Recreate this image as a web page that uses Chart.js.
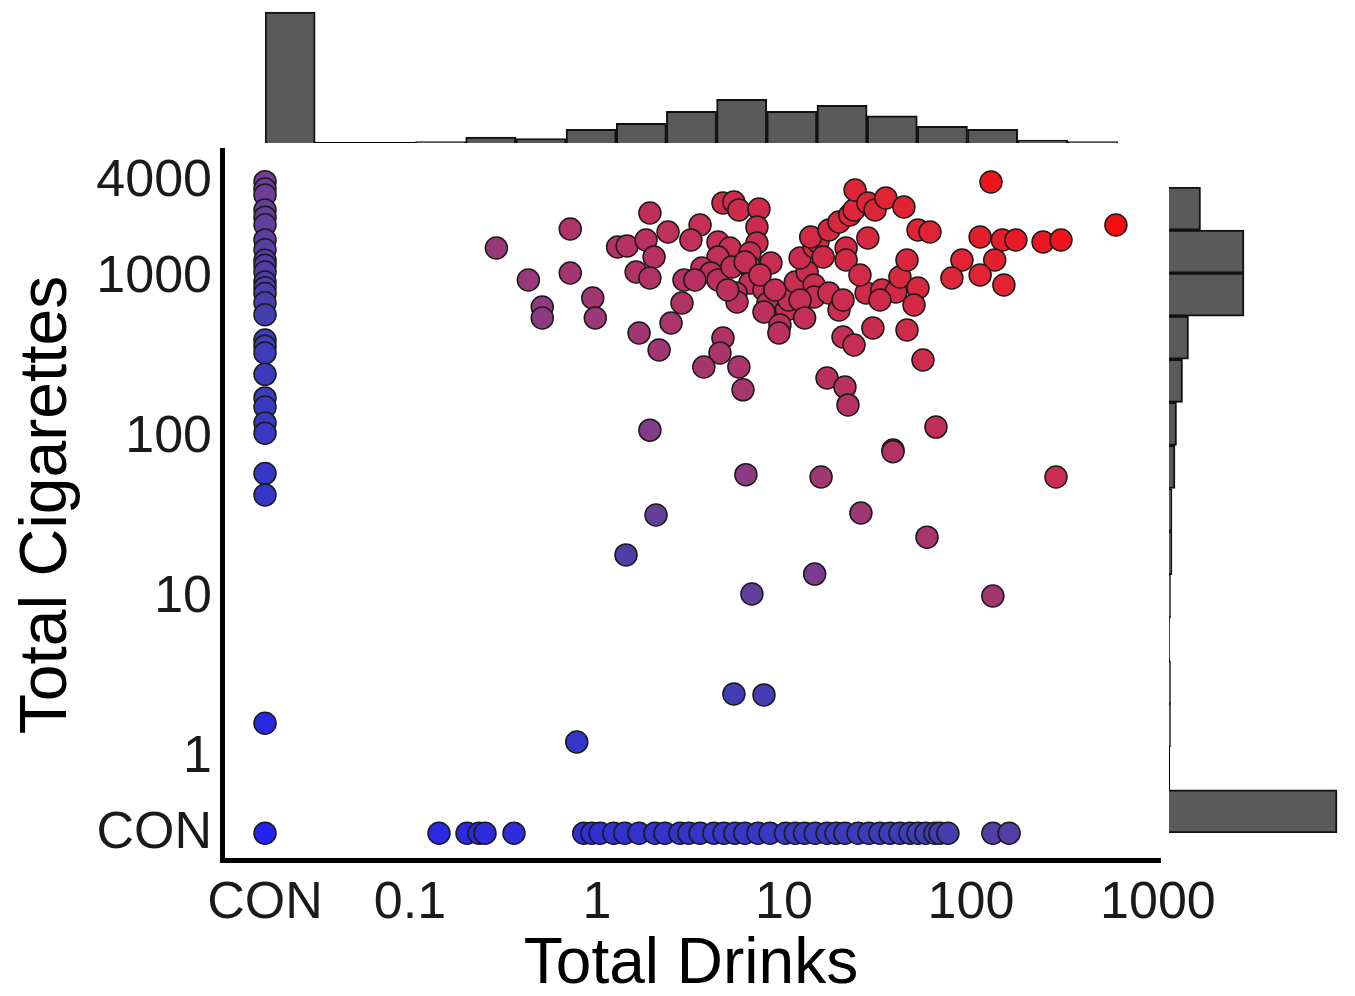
<!DOCTYPE html>
<html>
<head>
<meta charset="utf-8">
<script src="https://cdn.jsdelivr.net/npm/chart.js@4.4.1/dist/chart.umd.min.js"></script>
<style>
    html, body { margin: 0; padding: 0; background: #fff; }
    .wrap { position: relative; width: 1355px; height: 996px; overflow: hidden; }
    canvas { position: absolute; }
    #main { left: 0; top: 0; }
    #topHist { left: 265px; top: 0; }
    #rightHist { left: 1169px; top: 187px; }
</style>
</head>
<body>
<div class="wrap">
    <canvas id="main" width="1355" height="996"></canvas>
    <canvas id="topHist" width="853" height="143"></canvas>
    <canvas id="rightHist" width="186" height="646"></canvas>
</div>
<script>
// 0 means "CON" (none) on either axis
const conDrinkersCigs = [4000, 3600, 3300, 2660, 2400, 2150, 1730, 1500, 1290, 1200, 1090, 944, 870, 800, 700, 590,
    410, 375, 340, 250, 178, 156, 124, 107, 60, 44, 1.65, 0];
const conSmokersDrinks = [0.143, 0.202, 0.234, 0.252, 0.36, 0.85, 0.94, 1.04, 1.23, 1.41, 1.68, 2.04, 2.31, 2.78,
    3.10, 3.56, 4.22, 4.78, 5.47, 6.18, 7.26, 8.42, 10.2, 11.5, 12.9, 14.7, 17.0, 19.0, 21.2, 24.9, 28.5, 32.6,
    36.9, 41.7, 47.2, 52.1, 57.4, 64.2, 68.2, 75.3, 131, 160];
// [drinks, cigarettes]
const bothUsers = [
    [0.29, 1540], [0.72, 2024], [0.43, 972], [0.72, 1075], [0.51, 659], [0.51, 562], [0.95, 750], [0.98, 562],
    [1.29, 1563], [1.92, 2547], [1.45, 1585], [1.83, 1728], [2.40, 1940], [3.56, 2143], [3.18, 1728], [2.02, 1352],
    [1.62, 1090], [1.92, 1000], [2.92, 972], [2.85, 698], [2.49, 523], [1.68, 453], [2.15, 355], [4.72, 422],
    [4.55, 340], [3.73, 278], [5.74, 278], [6.04, 200], [1.92, 112], [17.0, 237], [21.2, 208], [22.0, 161],
    [65.0, 117], [38.3, 84], [55.4, 307], [45.5, 473], [29.9, 487], [20.7, 428], [23.7, 381],
    [4.72, 2943], [5.40, 2985], [5.74, 2661], [7.35, 2700], [7.17, 2084], [4.44, 1679], [5.14, 1540], [7.17, 1655],
    [6.58, 1432], [4.44, 1352], [3.64, 1155], [4.07, 1075], [4.44, 972], [5.27, 1172], [6.58, 1172], [8.52, 1241],
    [6.58, 931], [5.54, 806], [5.61, 708], [7.82, 841], [8.21, 698], [7.82, 613], [10.3, 631], [10.6, 729],
    [9.52, 508], [9.40, 453], [11.5, 944], [13.3, 1090], [12.2, 1334], [14.5, 1563], [15.2, 1679], [13.9, 1805],
    [17.4, 1995], [19.7, 2239], [22.5, 2478], [23.7, 2661], [24.0, 3548], [28.1, 2943], [30.7, 2661], [35.1, 3162],
    [43.8, 2780], [52.1, 1995], [60.4, 1940], [28.1, 1778], [21.5, 1540], [21.5, 1296], [16.2, 1352], [14.5, 904],
    [14.5, 761], [17.4, 806], [19.7, 631], [20.7, 729], [27.5, 806], [33.4, 841], [39.7, 818], [41.7, 1015],
    [45.5, 1296], [52.1, 866], [49.6, 678], [6.2, 1260], [7.45, 1045], [8.95, 841], [12.2, 729], [12.9, 562],
    [5.0, 841], [3.34, 972], [25.5, 1045], [32.6, 729],
    [128, 3981], [112, 1805], [147, 1728], [174, 1728], [243, 1679], [303, 1728], [596, 2143], [89.5, 1296],
    [134, 1296], [79.1, 1000], [112, 1045], [150, 904],
    [6.26, 59], [15.8, 57], [38.3, 82], [285, 57], [2.07, 33], [25.8, 34], [58.2, 24], [1.43, 18.6],
    [14.6, 14.1], [6.74, 10.6], [131, 10.3], [5.40, 2.51], [7.82, 2.48], [0.78, 1.26]
];

const xTickValues = ['CON', 0.1, 1, 10, 100, 1000];
const yTickValues = ['CON', 1, 10, 100, 1000, 4000];

// marginal histograms (counts per bin, bin lower bounds as labels)
const drinkBins = ['CON', '0.031', '0.056', '0.1', '0.19', '0.36', '0.68', '1.3', '2.3', '4.3', '8.2', '15', '28',
    '51', '95', '178', '331'];
const drinkCounts = [87, 0, 0, 1, 4, 3, 9, 13, 21, 29, 21, 25, 18, 11, 9, 2, 1];
const cigBins = ['3700', '1950', '1070', '575', '300', '165', '87', '48', '26', '14', '7.5', '4', '2.2', '1.2', 'CON'];
const cigCounts = [21, 50, 50, 13, 9, 5, 4, 2, 2, 1, 0.5, 1, 1, 0, 112];

const CON_X = -1.775;
const CON_Y = -0.47;
const toX = d => d === 0 ? CON_X : Math.log10(d);
const toY = c => c === 0 ? CON_Y : Math.log10(c);

const stops = [
    [0, 35, 35, 240], [0.38, 62, 62, 182], [0.45, 90, 62, 160], [0.5, 112, 62, 150],
    [0.6, 160, 55, 115], [0.72, 198, 46, 86], [0.85, 224, 36, 52], [1, 250, 5, 5]
];
const colorFor = (x, y) => {
    const px = (x - CON_X) / (2.78 - CON_X);
    const py = (y - CON_Y) / (3.6 - CON_Y);
    const t = Math.max(0, Math.min(1, (px + py) / 2));
    for (let i = 1; i < stops.length; i++) {
        if (t <= stops[i][0]) {
            const a = stops[i - 1], b = stops[i];
            const f = (t - a[0]) / (b[0] - a[0]);
            const c = [1, 2, 3].map(k => Math.round(a[k] + (b[k] - a[k]) * f));
            return `rgb(${c[0]},${c[1]},${c[2]})`;
        }
    }
    return 'rgb(250,5,5)';
};

const points = [
    ...conDrinkersCigs.map(c => ({ x: CON_X, y: toY(c) })),
    ...conSmokersDrinks.map(d => ({ x: toX(d), y: CON_Y })),
    ...bothUsers.map(p => ({ x: toX(p[0]), y: toY(p[1]) }))
];

const font = 'Liberation Sans, Arial, Helvetica, sans-serif';

new Chart(document.getElementById('main'), {
    type: 'scatter',
    data: {
        datasets: [{
            data: points,
            pointRadius: 11,
            pointHoverRadius: 11,
            pointBorderWidth: 1.5,
            pointBorderColor: '#1a1a1a',
            pointBackgroundColor: points.map(p => colorFor(p.x, p.y))
        }]
    },
    options: {
        responsive: false,
        animation: false,
        layout: { padding: { top: 150, right: 195, left: 0, bottom: 0 } },
        plugins: { legend: { display: false }, tooltip: { enabled: false } },
        scales: {
            x: {
                type: 'linear',
                min: -2.005,
                max: 3.011,
                grid: { display: false, drawTicks: false },
                border: { display: true, color: '#000', width: 5 },
                afterBuildTicks: scale => {
                    scale.ticks = xTickValues.map(v => ({ value: v === 'CON' ? CON_X : Math.log10(v) }));
                },
                afterFit: scale => { scale.height = 136; },
                ticks: {
                    autoSkip: false,
                    maxRotation: 0,
                    padding: 12,
                    color: '#1a1a1a',
                    font: { family: font, size: 52 },
                    callback: (value, index) => String(xTickValues[index])
                },
                title: {
                    display: true,
                    text: 'Total Drinks',
                    color: '#000',
                    font: { family: font, size: 64, lineHeight: 0.95 },
                    padding: { top: 0, bottom: 0 }
                }
            },
            y: {
                type: 'linear',
                min: -0.6375,
                max: 3.8,
                grid: { display: false, drawTicks: false },
                border: { display: true, color: '#000', width: 5 },
                afterBuildTicks: scale => {
                    scale.ticks = yTickValues.map(v => ({ value: v === 'CON' ? CON_Y : Math.log10(v) }));
                },
                afterFit: scale => { scale.width = 222; },
                ticks: {
                    autoSkip: false,
                    padding: 10,
                    color: '#1a1a1a',
                    font: { family: font, size: 52 },
                    callback: (value, index) => String(yTickValues[index])
                },
                title: {
                    display: true,
                    text: 'Total Cigarettes',
                    color: '#000',
                    font: { family: font, size: 66 },
                    padding: { top: 8, bottom: 0 }
                }
            }
        }
    }
});

const histBar = {
    backgroundColor: '#5a5a5a',
    borderColor: '#111',
    borderWidth: 2,
    barPercentage: 1,
    categoryPercentage: 1
};

new Chart(document.getElementById('topHist'), {
    type: 'bar',
    data: { labels: drinkBins, datasets: [{ data: drinkCounts, ...histBar }] },
    options: {
        responsive: false,
        animation: false,
        layout: { padding: 0 },
        plugins: { legend: { display: false }, tooltip: { enabled: false } },
        scales: {
            x: {
                grid: { display: false, drawTicks: false },
                ticks: { display: false },
                border: { display: true, color: '#000', width: 2 }
            },
            y: { display: false, min: 0, max: 95 }
        }
    }
});

new Chart(document.getElementById('rightHist'), {
    type: 'bar',
    data: { labels: cigBins, datasets: [{ data: cigCounts, ...histBar }] },
    options: {
        indexAxis: 'y',
        responsive: false,
        animation: false,
        layout: { padding: 0 },
        plugins: { legend: { display: false }, tooltip: { enabled: false } },
        scales: {
            y: {
                grid: { display: false, drawTicks: false },
                ticks: { display: false },
                border: { display: true, color: '#000', width: 2 }
            },
            x: { display: false, min: 0, max: 124 }
        }
    }
});
</script>
</body>
</html>
